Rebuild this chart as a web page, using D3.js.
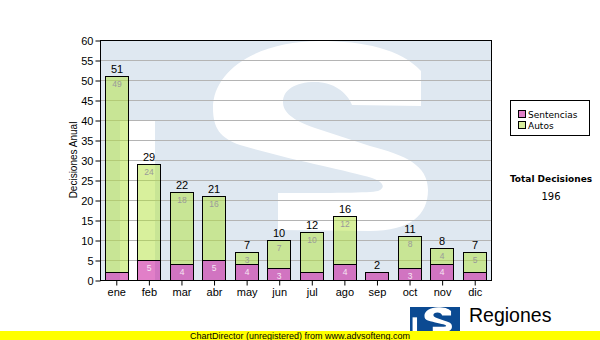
<!DOCTYPE html>
<html><head><meta charset="utf-8">
<script src="https://cdn.jsdelivr.net/npm/d3@7"></script>
<style>html,body{margin:0;padding:0;background:#fff;} svg{display:block;}</style>
</head><body><svg id="c" width="600" height="340"></svg>
<script>
const months = ["ene","feb","mar","abr","may","jun","jul","ago","sep","oct","nov","dic"];
const sentencias = [2,5,4,5,4,3,2,4,2,3,4,2];
const autos = [49,24,18,16,3,7,10,12,0,8,4,5];
const yTicks = [0,5,10,15,20,25,30,35,40,45,50,55,60];
const seriesNames = ["Sentencias","Autos"];
const seriesColors = ["rgba(195,0,145,0.5)","rgba(177,225,57,0.5)"];
const legendColors = ["#e080c8","#d8ee9c"];
const innerLabelColors = ["#f6e6f2","#9a9a9a"];
const yTitle = "Decisiones Anual";
const totalTitle = "Total Decisiones";

const svg = d3.select("#c");
const defs = svg.append("defs");
const X0 = 100, X1 = 491, Y0 = 40, Y1 = 280;
const AR = "'Liberation Sans', Arial, sans-serif";
const DV = "'DejaVu Sans', Verdana, sans-serif";

// decorative "TS" logo drawn in a 391x240 design box
const S_PATH = "M321,31 C301,9 263,1 220,1 C158,1 113,30 113,68 C113,88 120,98 140,105 " +
  "C190,120 245,130 272,138 C284,142 286,148 278,151 C270,153 230,153 178,153 L178,190 " +
  "L270,191 C310,191 328,175 328,150 C328,125 305,115 270,106 L215,88 C192,80 183,72 183,62 " +
  "C183,50 195,42 215,42 C233,42 247,52 252,65 L321,66 Z";

function drawLogo(parent, x, y, w, h, bg, fg, id) {
  defs.append("clipPath").attr("id", id).append("rect")
    .attr("x", x).attr("y", y).attr("width", w).attr("height", h);
  const g = parent.append("g").attr("clip-path", `url(#${id})`);
  g.append("rect").attr("x", x).attr("y", y).attr("width", w).attr("height", h).attr("fill", bg);
  const inner = g.append("g").attr("transform", `translate(${x},${y}) scale(${w / 391},${h / 240})`);
  inner.append("rect").attr("x", 20).attr("y", 80).attr("width", 35).attr("height", 160).attr("fill", fg);
  inner.append("path").attr("d", S_PATH).attr("fill", fg);
}

// watermark background
drawLogo(svg, X0, Y0, X1 - X0, Y1 - Y0, "#dfe8f1", "#ffffff", "wm");

const x = d3.scaleBand().domain(months).range([X0, X1]).paddingInner(0.28).paddingOuter(0.14);
const y = d3.scaleLinear().domain([0, 60]).range([Y1, Y0]);

// grid
svg.append("g").selectAll("line").data(yTicks.filter(t => t > 0 && t < 60)).join("line")
  .attr("x1", X0).attr("x2", X1)
  .attr("y1", d => Math.round(y(d)) + 0.5).attr("y2", d => Math.round(y(d)) + 0.5)
  .attr("stroke", "#b4b4b4").attr("stroke-width", 1);

// bars
const data = months.map((m, i) => ({month: m, Sentencias: sentencias[i], Autos: autos[i]}));
const stacked = d3.stack().keys(seriesNames)(data);
const bw = Math.round(x.bandwidth());
stacked.forEach((layer, li) => {
  const g = svg.append("g");
  layer.forEach(d => {
    const v = d[1] - d[0];
    if (v <= 0) return;
    const xx = Math.round(x(d.data.month)) + 0.5;
    const yt = Math.round(y(d[1])) + 0.5, yb = Math.round(y(d[0])) + 0.5;
    g.append("rect").attr("x", xx).attr("y", yt).attr("width", bw).attr("height", yb - yt)
      .attr("fill", seriesColors[li]).attr("stroke", "#000").attr("stroke-width", 1);
    if (v >= 3) {
      g.append("text").attr("x", xx + bw / 2).attr("y", yt + 10.5)
        .attr("text-anchor", "middle").attr("font-family", AR).attr("font-size", 8.5)
        .attr("fill", innerLabelColors[li]).text(v);
    }
  });
});

// totals
svg.append("g").selectAll("text").data(data).join("text")
  .attr("x", d => Math.round(x(d.month)) + 0.5 + bw / 2)
  .attr("y", d => y(d.Sentencias + d.Autos) - 3)
  .attr("text-anchor", "middle").attr("font-family", AR).attr("font-size", 11).attr("fill", "#000")
  .text(d => d.Sentencias + d.Autos);

// border
svg.append("rect").attr("x", X0 + 0.5).attr("y", Y0 + 0.5).attr("width", X1 - X0).attr("height", Y1 - Y0)
  .attr("fill", "none").attr("stroke", "#000").attr("stroke-width", 1);

// axes
const ya = svg.append("g").attr("transform", `translate(${X0 + 0.5},0.5)`)
  .call(d3.axisLeft(y).tickValues(yTicks).tickSize(5).tickSizeOuter(0).tickPadding(2));
ya.select(".domain").remove();
ya.selectAll("text").attr("font-family", AR).attr("font-size", 11).attr("fill", "#000");
const xa = svg.append("g").attr("transform", `translate(0.5,${Y1 + 0.5})`)
  .call(d3.axisBottom(x).tickSize(5).tickSizeOuter(0).tickPadding(3));
xa.select(".domain").remove();
xa.selectAll("text").attr("font-family", AR).attr("font-size", 11).attr("fill", "#000");

// y title
svg.append("text").attr("transform", `translate(76.5,${(Y0 + Y1) / 2}) rotate(-90)`)
  .attr("text-anchor", "middle").attr("font-family", AR).attr("font-size", 10).attr("fill", "#000")
  .text(yTitle);

// legend
svg.append("rect").attr("x", 510.5).attr("y", 100.5).attr("width", 79).attr("height", 35)
  .attr("fill", "#fff").attr("stroke", "#000");
seriesNames.forEach((n, i) => {
  svg.append("rect").attr("x", 518.5).attr("y", 110.5 + i * 11).attr("width", 7).attr("height", 7)
    .attr("fill", legendColors[i]).attr("stroke", "#000");
  svg.append("text").attr("x", 528).attr("y", 117.5 + i * 11).attr("font-family", DV)
    .attr("font-size", 9).attr("fill", "#000").text(n);
});

// total
const total = d3.sum(sentencias) + d3.sum(autos);
svg.append("text").attr("x", 551).attr("y", 182).attr("text-anchor", "middle")
  .attr("font-family", DV).attr("font-weight", "bold").attr("font-size", 9).text(totalTitle);
svg.append("text").attr("x", 551).attr("y", 200).attr("text-anchor", "middle")
  .attr("font-family", DV).attr("font-size", 10).text(total);

// logo
drawLogo(svg, 410, 307, 50, 31, "#0b4a92", "#ffffff", "lg");
svg.append("text").attr("x", 469).attr("y", 322).attr("font-family", AR).attr("font-size", 19.5)
  .attr("fill", "#000").text("Regiones");
svg.append("text").attr("x", 469).attr("y", 335.5).attr("font-family", AR).attr("font-size", 8)
  .attr("fill", "#000").text("Tribunal Supremo de Justicia");

// footer
svg.append("rect").attr("x", 0).attr("y", 331).attr("width", 600).attr("height", 9).attr("fill", "#ffff00");
svg.append("text").attr("x", 300).attr("y", 338.5).attr("text-anchor", "middle")
  .attr("font-family", AR).attr("font-size", 9).attr("fill", "#000")
  .text("ChartDirector (unregistered) from www.advsofteng.com");
</script></body></html>
